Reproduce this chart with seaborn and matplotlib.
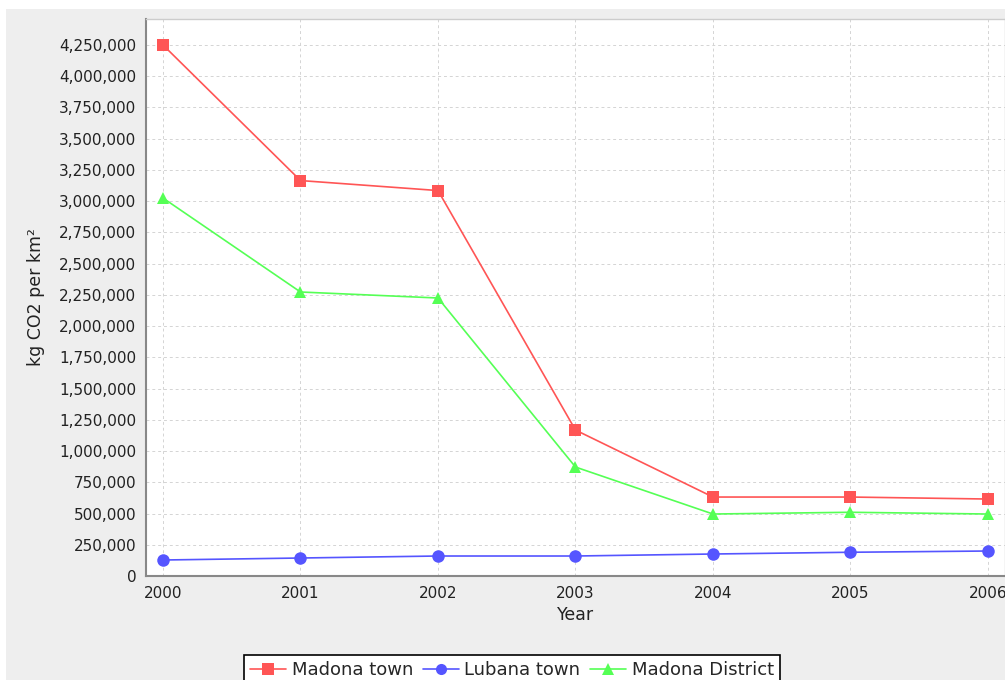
import pandas as pd
import matplotlib.pyplot as plt
import matplotlib.patches as mpatches
from matplotlib.ticker import FuncFormatter, MultipleLocator
import seaborn as sns

# data
years = [2000, 2001, 2002, 2003, 2004, 2005, 2006]
madona_town = [4250000, 3165000, 3085000, 1168000, 632000, 632000, 616000]
lubana_town = [128000, 144000, 160000, 160000, 176000, 190000, 200000]
madona_district = [3025000, 2273000, 2225000, 872000, 496000, 510000, 496000]
series_names = ['Madona town', 'Lubana town', 'Madona District']

df = pd.DataFrame({
    'Year': years * 3,
    'value': madona_town + lubana_town + madona_district,
    'series': [s for s in series_names for _ in years],
})

sns.set_style('white')
plt.rcParams['font.family'] = ['DejaVu Sans']

fig = plt.figure(figsize=(10.05, 6.8), dpi=100)
fig.patch.set_facecolor('white')
# grey panel behind the chart
fig.patches.append(mpatches.Rectangle((6 / 1005, 0), 1, 1 - 9 / 680, transform=fig.transFigure,
                                      facecolor='#EEEEEE', edgecolor='none', zorder=-1))

ax = fig.add_axes([146 / 1005, 1 - 576 / 680, 1 - 146 / 1005, (576 - 19) / 680])
ax.set_facecolor('white')

colors = {'Madona town': '#FF5555', 'Lubana town': '#5555FF', 'Madona District': '#55FF55'}
markers = {'Madona town': 's', 'Lubana town': 'o', 'Madona District': '^'}

sns.lineplot(data=df, x='Year', y='value', hue='series', style='series',
             hue_order=series_names, style_order=series_names,
             palette=colors, markers=markers, dashes=False,
             markersize=9, markeredgewidth=0, linewidth=1.2, ax=ax, legend=False)

ax.set_xlim(2000 - 17 / 137.5, 2006 + 17 / 137.5)
ax.set_ylim(0, 4250000 + 26 / 31.24 * 250000)
ax.set_xticks(years)
ax.yaxis.set_major_locator(MultipleLocator(250000))
ax.yaxis.set_major_formatter(FuncFormatter(lambda v, p: f'{int(v):,}'))

ax.grid(True, color='#D4D4D4', linestyle=(0, (3, 3)), linewidth=0.7)
ax.set_axisbelow(True)

for side in ['left', 'bottom']:
    ax.spines[side].set_color('#888888')
    ax.spines[side].set_linewidth(1.5)
for side in ['top', 'right']:
    ax.spines[side].set_color('#CCCCCC')
    ax.spines[side].set_linewidth(1.0)

ax.tick_params(axis='both', direction='out', length=4, width=1, color='#888888',
               labelsize=11, labelcolor='#222222', pad=3)
ax.set_xlabel('Year', fontsize=12.5, color='#222222', labelpad=4)
ax.set_ylabel('kg CO2 per km²', fontsize=12.5, color='#222222', labelpad=10)

handles = [plt.Line2D([], [], color=colors[s], marker=markers[s], markersize=8,
                      markeredgewidth=0, linewidth=1.2) for s in series_names]
leg = fig.legend(handles, series_names, loc='upper center', bbox_to_anchor=(512 / 1005, 1 - 646 / 680),
                 ncol=3, frameon=True, fancybox=False, edgecolor='black', framealpha=1,
                 fontsize=13, handlelength=2.0, handletextpad=0.3, columnspacing=0.55, borderpad=0.35)
leg.get_frame().set_linewidth(1.2)
leg.get_frame().set_facecolor('white')

fig.savefig('out.png', dpi=100)
